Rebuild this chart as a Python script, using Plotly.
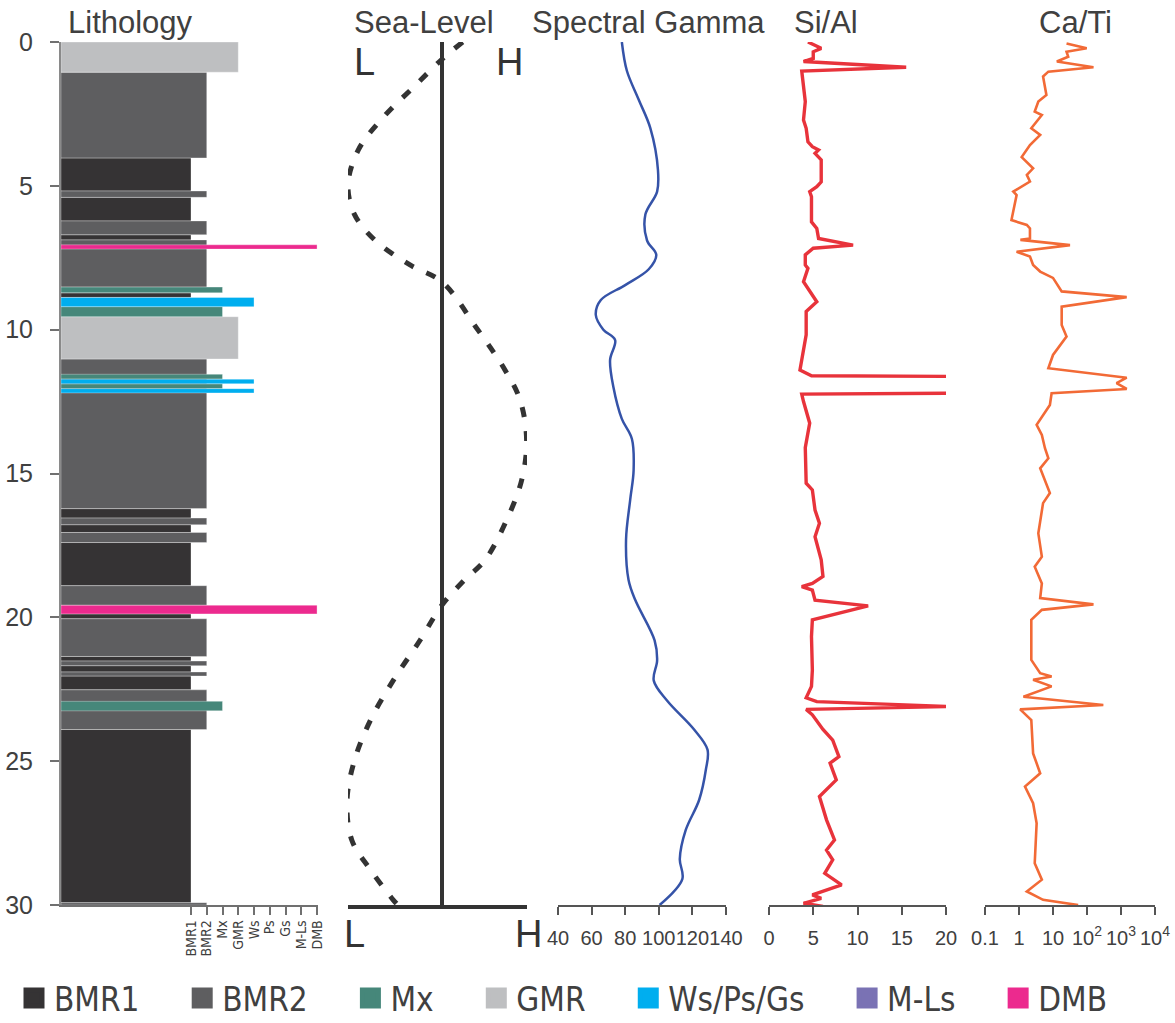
import plotly.graph_objects as go

# ---------------- data ----------------
litho_names = ["BMR1", "BMR2", "Mx", "GMR", "Ws", "Ps", "Gs", "M-Ls", "DMB"]
litho_values = [1, 2, 3, 4, 5, 6, 7, 8, 9]

bed_top = [0, 1.05, 4.03, 5.18, 5.4, 6.22, 6.7, 6.88, 7.05, 8.52, 8.72, 8.88, 9.2, 9.55,
           11.02, 11.55, 11.72, 11.88, 12.05, 16.22, 16.55, 16.78, 17.05, 17.4, 18.9, 19.58,
           19.88, 20.05, 21.36, 21.52, 21.68, 21.9, 22.04, 22.52, 22.92, 23.9, 29.92]
bed_bottom = [1.05, 4.03, 5.18, 5.4, 6.22, 6.7, 6.88, 8.52, 7.2, 8.72, 8.88, 9.2, 9.55, 11.02,
              16.22, 11.72, 11.88, 12.05, 12.2, 16.55, 16.78, 17.05, 17.4, 18.9, 19.58, 19.88,
              20.05, 21.36, 21.52, 21.68, 21.9, 22.04, 22.52, 23.9, 23.25, 29.92, 30.0]
bed_type = ["GMR", "BMR2", "BMR1", "BMR2", "BMR1", "BMR2", "BMR1", "BMR2", "DMB", "Mx", "BMR1",
            "Ws", "Mx", "GMR", "BMR2", "Mx", "Ws", "Mx", "Ws", "BMR1", "BMR2", "BMR1", "BMR2",
            "BMR1", "BMR2", "DMB", "BMR1", "BMR2", "BMR1", "BMR2", "BMR1", "BMR2", "BMR1",
            "BMR2", "Mx", "BMR1", "BMR2"]

sea_depth = [0, 0.6, 1.56, 2.6, 3.75, 4.97, 6.0, 6.9, 7.75, 8.34, 10.0, 11.4, 12.44, 13.83,
             15.2, 16.6, 18.0, 18.7, 19.57, 20.78, 22.2, 23.57, 24.96, 26.35, 27.74, 28.78,
             29.82, 30.0]
sea_level = [0.22, 0.0, -0.30, -0.62, -0.89, -1.0, -0.93, -0.71, -0.34, 0.0, 0.38, 0.67,
             0.83, 0.90, 0.85, 0.69, 0.46, 0.24, 0.0, -0.23, -0.52, -0.76, -0.93, -1.01,
             -0.96, -0.76, -0.52, -0.47]

gamma_depth = [0, 1, 2, 3, 4.45, 5.2, 6.0, 6.9, 7.4, 7.9, 8.45, 8.97, 9.49, 10.0, 10.36,
               11.05, 12, 13.1, 13.8, 14.9, 15.9, 17.3, 18.7, 19.4, 20.8, 21.5, 22.2, 22.9,
               23.9, 24.6, 25.3, 26.35, 27.4, 28.4, 29.1, 30]
gamma_value = [78, 81, 88, 95, 99.5, 99, 92, 93, 98.5, 94, 80, 65.5, 62.5, 67, 74, 71, 73, 78,
               84, 85, 83, 80.5, 82, 86, 97.5, 99, 97, 105, 121, 129, 128, 124, 116, 112.5,
               114, 100.5]

sial_depth = [0, 0.22, 0.34, 0.57, 0.68, 0.88, 1.01, 2.07, 2.71, 3.0, 3.47, 3.64, 3.75, 3.87,
              4.1, 4.86, 5.03, 5.2, 5.38, 6.25, 6.48, 6.83, 7.06, 7.17, 7.4, 7.75, 7.87, 8.33,
              9.03, 9.37, 10.18, 10.76, 11.4, 11.6, 11.63, 12.2, 12.24, 12.5, 13.25, 14.1,
              14.8, 15.34, 15.57, 16.27, 16.73, 17.2, 18.0, 18.58, 18.82, 18.93, 19.05, 19.4,
              19.6, 20.09, 20.67, 21.83, 22.4, 22.8, 22.93, 23.1, 23.2, 23.39, 23.9, 24.27,
              24.84, 25.07, 25.65, 26.23, 27.04, 27.74, 28.09, 28.43, 28.9, 29.3, 29.65,
              29.77, 29.94, 30.05]
sial_value = [4.4, 5.9, 5.0, 5.0, 3.9, 15.5, 3.7, 4.1, 3.9, 4.2, 4.4, 4.9, 5.6, 5.2, 5.9, 5.9,
              5.4, 4.6, 4.8, 4.8, 5.4, 5.6, 9.5, 5.0, 4.1, 4.1, 4.4, 3.9, 5.4, 4.2, 4.2, 3.9,
              3.5, 4.8, 25, 25, 3.7, 3.9, 4.6, 4.1, 4.2, 4.2, 4.9, 5.2, 5.7, 5.2, 5.9, 6.1,
              4.9, 3.7, 4.9, 5.2, 11.2, 4.9, 4.8, 4.9, 4.8, 4.2, 5.4, 20.5, 4.2, 4.9, 6.1,
              7.2, 7.9, 6.9, 7.6, 5.7, 6.5, 7.4, 6.5, 7.2, 6.3, 8.2, 4.9, 5.9, 3.9, 6.1]

cati_depth = [0.05, 0.22, 0.34, 0.51, 0.68, 0.88, 1.03, 1.2, 1.84, 2.07, 2.42, 2.54, 3.0,
              3.23, 3.58, 4.0, 4.39, 4.62, 4.85, 5.2, 5.32, 6.19, 6.36, 6.48, 6.83, 6.88,
              7.06, 7.29, 7.46, 7.75, 7.98, 8.2, 8.67, 8.87, 9.2, 9.84, 10.24, 10.88, 11.34,
              11.67, 11.86, 12.06, 12.21, 12.62, 13.31, 13.66, 14.12, 14.47, 14.82, 15.68,
              16.03, 17.08, 17.89, 18.24, 18.82, 19.33, 19.55, 19.74, 20.09, 21.48, 21.94,
              22.06, 22.17, 22.4, 22.76, 23.05, 23.2, 23.57, 24.73, 25.42, 25.88, 26.46,
              27.16, 28.55, 29.12, 29.53, 29.82, 30.0]
cati_value = [25, 98, 25, 28, 13, 155, 7.3, 5.1, 6.4, 3.7, 2.9, 4.7, 2.3, 4.2, 2.1, 1.2, 2.6,
              1.7, 2.1, 0.68, 0.85, 0.6, 1.7, 2.1, 2.1, 1.1, 31.6, 0.85, 2.1, 2.6, 4.2, 10, 18,
              1470, 18, 18, 25, 10, 7.3, 1470, 740, 1470, 9.1, 8.1, 3.3, 4.7, 5.8, 7.3, 4.2,
              8.1, 5.1, 3.7, 4.7, 2.9, 4.7, 4.2, 155, 4.7, 2.3, 2.3, 4.2, 9.1, 2.6, 9.1, 1.35,
              302, 1.08, 2.3, 2.6, 4.2, 1.5, 2.6, 3.3, 2.9, 4.7, 1.7, 5.1, 55]

legend_names = ["BMR1", "BMR2", "Mx", "GMR", "Ws/Ps/Gs", "M-Ls", "DMB"]
legend_keys = ["BMR1", "BMR2", "Mx", "GMR", "Ws", "M-Ls", "DMB"]

colors = {"BMR1": "#353334", "BMR2": "#5e5e60", "Mx": "#46877a", "GMR": "#bebfc1",
          "Ws": "#00aeef", "M-Ls": "#7a72b4", "DMB": "#ec2a8e"}

# ---------------- layout helpers ----------------
W, H = 1175, 1023
def px(x):
    return x / W
def py(y):
    return 1 - y / H

FONT = "Liberation Sans, Arial, sans-serif"
COND = "DejaVu Sans Condensed, Liberation Sans Narrow, Liberation Sans, sans-serif"
TXT = "#404040"

LITHO_BASE = -7.25
litho_val = dict(zip(litho_names, litho_values))

fig = go.Figure()

# lithology bars
draw_order = ["BMR1", "BMR2", "GMR", "Mx", "Ws", "DMB"]
for key in draw_order:
    idx = [i for i, t in enumerate(bed_type) if t == key]
    if not idx:
        continue
    mids = [(bed_top[i] + bed_bottom[i]) / 2 for i in idx]
    thick = [bed_bottom[i] - bed_top[i] for i in idx]
    lens = [litho_val[key] - LITHO_BASE for _ in idx]
    fig.add_trace(go.Bar(
        y=mids, x=lens, width=thick, base=LITHO_BASE, orientation="h",
        marker=dict(color=colors[key], line=dict(color="rgba(255,255,255,0.55)", width=0.6)),
        xaxis="x", yaxis="y", showlegend=False, hoverinfo="skip"))

# sea level curve
fig.add_trace(go.Scatter(
    x=sea_level, y=sea_depth, mode="lines", line=dict(color="#333333", width=5,
    dash="10px,14px", shape="spline"), xaxis="x2", yaxis="y", showlegend=False))

# spectral gamma
fig.add_trace(go.Scatter(
    x=gamma_value, y=gamma_depth, mode="lines",
    line=dict(color="#3553a8", width=2.5, shape="spline", smoothing=1.0),
    xaxis="x3", yaxis="y", showlegend=False))

# Si/Al
fig.add_trace(go.Scatter(
    x=sial_value, y=sial_depth, mode="lines", line=dict(color="#e8333b", width=3.4),
    xaxis="x4", yaxis="y", showlegend=False))

# Ca/Ti
fig.add_trace(go.Scatter(
    x=cati_value, y=cati_depth, mode="lines", line=dict(color="#f26a36", width=2.6),
    xaxis="x5", yaxis="y", showlegend=False))

# legend entries
PAD = "\u00a0" * 4
for name, key in zip(legend_names, legend_keys):
    fig.add_trace(go.Scatter(
        x=[None], y=[None], mode="markers", name=name + PAD,
        marker=dict(symbol="square", size=16, color=colors[key],
                    line=dict(color=colors[key], width=5)),
        xaxis="x", yaxis="y", showlegend=True))

bottom_axis = dict(anchor="y", showgrid=False, zeroline=False, showline=True,
                   linecolor="#555555", linewidth=1.5, ticks="outside", ticklen=8,
                   tickcolor="#555555", tickwidth=1.5, tickangle=0, automargin=False,
                   ticklabelstandoff=6,
                   tickfont=dict(family=FONT, size=20, color=TXT))

fig.update_layout(
    width=W, height=H, autosize=False, margin=dict(l=0, r=0, t=0, b=0, autoexpand=False),
    paper_bgcolor="white", plot_bgcolor="white", barmode="overlay",
    font=dict(family=FONT, color=TXT),
    yaxis=dict(domain=[py(905), py(42)], range=[30, 0], anchor="x", showgrid=False,
               zeroline=False, showline=True, linecolor="#8a8a8a", linewidth=2,
               ticks="outside", ticklen=9, tickcolor="#707070", tickwidth=1.5,
               tickvals=[0, 5, 10, 15, 20, 25, 30], ticklabelstandoff=12, automargin=False,
               tickfont=dict(family=FONT, size=25, color=TXT)),
    xaxis=dict(domain=[px(61), px(318)], range=[LITHO_BASE, 9.06], anchor="y",
               showgrid=False, zeroline=False, showline=True, linecolor="#707070",
               linewidth=1.5, layer="below traces", ticks="outside", ticklen=8,
               tickcolor="#707070", tickwidth=1.5, tickvals=litho_values,
               ticktext=litho_names, tickangle=-90, automargin=False,
               tickfont=dict(family=COND, size=14, color=TXT)),
    xaxis2=dict(domain=[px(348), px(527)], range=[-1, 85 / 94], anchor="y",
                showgrid=False, zeroline=True, zerolinecolor="#333333", zerolinewidth=4,
                showline=True, linecolor="#333333", linewidth=4, showticklabels=False,
                ticks="", automargin=False),
    xaxis3=dict(domain=[px(558), px(726)], range=[40, 140],
                tickvals=[40, 60, 80, 100, 120, 140], **bottom_axis),
    xaxis4=dict(domain=[px(769), px(946)], range=[0, 20],
                tickvals=[0, 5, 10, 15, 20], **bottom_axis),
    xaxis5=dict(domain=[px(985), px(1155)], type="log", range=[-1, 4],
                tickvals=[0.1, 1, 10, 100, 1000, 10000],
                ticktext=["0.1", "1", "10", "10<sup>2</sup>", "10<sup>3</sup>", "10<sup>4</sup>"],
                **bottom_axis),
    legend=dict(orientation="h", x=px(14), y=py(998), xanchor="left", yanchor="middle",
                font=dict(family=COND, size=33, color=TXT), itemsizing="trace",
                bgcolor="rgba(0,0,0,0)", traceorder="normal"),
)

titles = [("Lithology", 130), ("Sea-Level", 424), ("Spectral Gamma", 648),
          ("Si/Al", 826), ("Ca/Ti", 1075)]
for text, xc in titles:
    fig.add_annotation(x=px(xc), y=py(23), xref="paper", yref="paper", text=text,
                       showarrow=False, xanchor="center", yanchor="middle",
                       font=dict(family=FONT, size=31, color=TXT))

for text, xc, yc in [("L", 364, 62), ("H", 509, 62), ("L", 354, 934), ("H", 528, 934)]:
    fig.add_annotation(x=px(xc), y=py(yc), xref="paper", yref="paper", text=text,
                       showarrow=False, xanchor="center", yanchor="middle",
                       font=dict(family=FONT, size=38, color="#333333"))

fig.write_html("out.html")
